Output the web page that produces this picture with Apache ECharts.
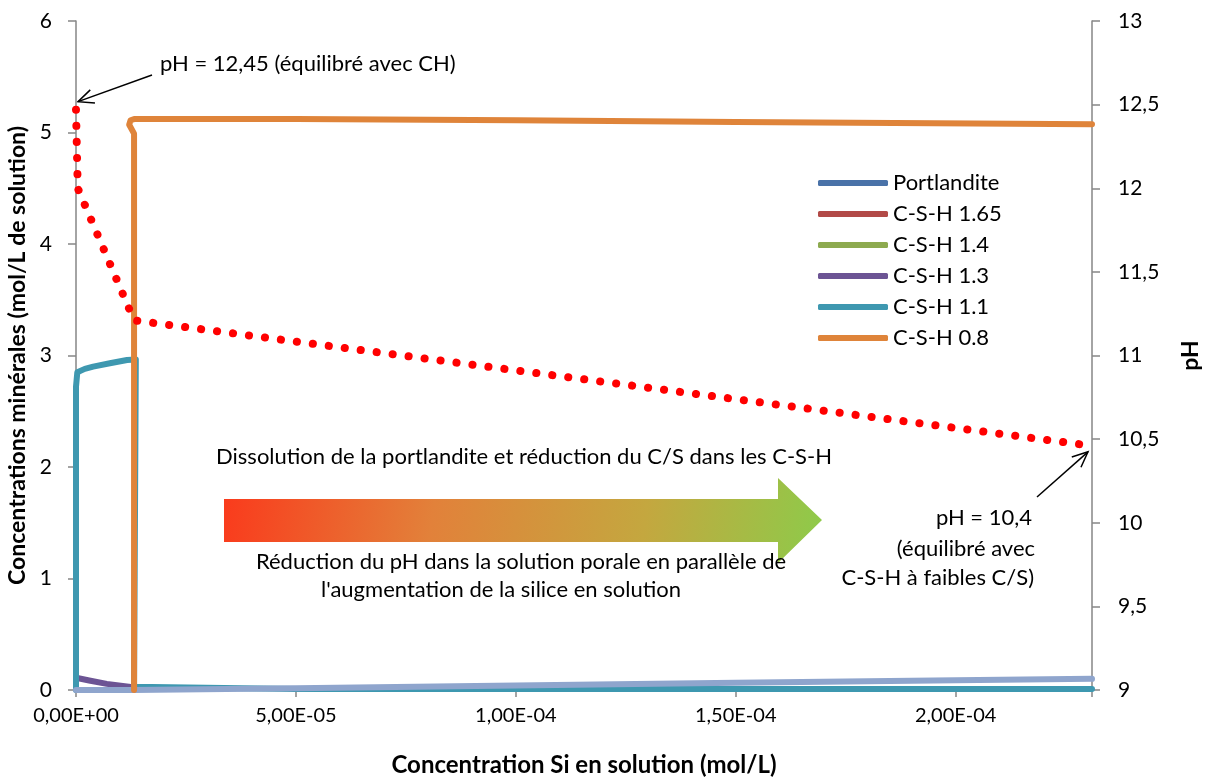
<!DOCTYPE html>
<html>
<head>
<meta charset="utf-8">
<script src="https://cdn.jsdelivr.net/npm/echarts@6/dist/echarts.min.js"></script>
<style>
  html, body { margin: 0; background: #fff; }
  #chart { width: 1209px; height: 778px; }
</style>
</head>
<body>
<div id="chart"></div>
<script>
// noms de la légende
var legendNames = ['Portlandite', 'C-S-H 1.65', 'C-S-H 1.4', 'C-S-H 1.3', 'C-S-H 1.1', 'C-S-H 0.8'];

// concentrations minérales [Si (mol/L), mol/L de solution]
var portlandite = [[0, 0], [0, 0]];
var csh165 = [[0, 0], [0, 0]];
var csh14 = [[0, 0], [0, 0]];
var csh13 = [[0, 0.11], [3e-6, 0.085], [7e-6, 0.055], [1.2e-5, 0.03], [1.3e-5, 0.02]];
var csh11 = [[0, 0], [0, 2.72], [3e-7, 2.85], [2e-6, 2.88], [3.9e-6, 2.9], [7.7e-6, 2.93], [1.16e-5, 2.96], [1.36e-5, 2.965],
             [1.32e-5, 0.03], [5e-5, 0.01], [1.5e-4, 0.01], [2.31e-4, 0.01]];
var csh08 = [[1.32e-5, 0], [1.32e-5, 4.99], [1.21e-5, 5.07], [1.24e-5, 5.11], [1.32e-5, 5.12],
             [5e-5, 5.12], [1e-4, 5.11], [1.5e-4, 5.095], [2.31e-4, 5.075]];
var silice = [[0, 0], [1.3e-5, 0.0], [5e-5, 0.015], [1e-4, 0.04], [1.5e-4, 0.065], [2e-4, 0.088], [2.31e-4, 0.1]];

// pH (axe de droite)
var ph = [[0, 12.47], [4e-7, 12.0], [1.32e-5, 11.21], [2.31e-4, 10.46]];

var colors = ['#4A72A8', '#B24A47', '#8DAA4F', '#6C5494', '#3E98B0', '#DF843A'];
var FONT = 'Lato, "Open Sans", sans-serif';

var chart = echarts.init(document.getElementById('chart'));

function sci(v) {
    if (v > 2.2e-4) return '';
    var s = v.toExponential(2).split('e');
    var e = parseInt(s[1], 10);
    var a = Math.abs(e);
    return s[0].replace('.', ',') + 'E' + (e < 0 ? '-' : '+') + (a < 10 ? '0' : '') + a;
}

function mineral(name, data, color) {
    return {
        name: name, type: 'line', data: data, symbol: 'none', clip: false,
        yAxisIndex: 0, animation: false,
        lineStyle: { color: color, width: 6, cap: 'round', join: 'round' },
        itemStyle: { color: color }
    };
}

var series = [
    mineral(legendNames[0], portlandite, colors[0]),
    mineral(legendNames[1], csh165, colors[1]),
    mineral(legendNames[2], csh14, colors[2]),
    mineral(legendNames[3], csh13, colors[3]),
    mineral(legendNames[4], csh11, colors[4]),
    mineral('silice', silice, '#8FA5CD'),
    mineral(legendNames[5], csh08, colors[5]),
    {
        name: 'pH', type: 'line', data: ph, symbol: 'none', yAxisIndex: 1, clip: false,
        lineStyle: { color: '#FF0000', width: 8, type: [0.1, 16], cap: 'round' },
        z: 5
    }
];

var axisLine = { show: true, lineStyle: { color: '#868686', width: 1.5 } };
var nameStyle = { fontFamily: FONT, fontSize: 23, fontWeight: 'bold', color: '#000' };

chart.setOption({
    animation: false,
    textStyle: { fontFamily: FONT },
    grid: { left: 76, right: 117, top: 21, bottom: 88, outerBoundsMode: 'none', containLabel: false },
    legend: {
        data: legendNames,
        orient: 'vertical',
        left: 813, top: 167,
        icon: 'roundRect',
        itemWidth: 70, itemHeight: 6, itemGap: 9,
        textStyle: { fontFamily: FONT, fontSize: 22, color: '#000', lineHeight: 22 }
    },
    xAxis: {
        type: 'value', min: 0, max: 2.31e-4, interval: 5e-5,
        name: 'Concentration Si en solution (mol/L)',
        nameLocation: 'middle', nameGap: 63,
        nameTextStyle: { fontFamily: FONT, fontSize: 24, fontWeight: 'bold', color: '#000' },
        axisLine: axisLine,
        axisTick: { show: true, length: 7, lineStyle: { color: '#868686', width: 1.5 } },
        splitLine: { show: false },
        axisLabel: { formatter: sci, fontSize: 20, color: '#000', margin: 16 }
    },
    yAxis: [{
        type: 'value', min: 0, max: 6, interval: 1, position: 'left',
        name: 'Concentrations minérales (mol/L de solution)',
        nameLocation: 'middle', nameGap: 46, nameRotate: 90,
        nameTextStyle: nameStyle,
        axisLine: axisLine,
        axisTick: { show: true, length: 8, lineStyle: { color: '#868686', width: 1.5 } },
        splitLine: { show: false },
        axisLabel: { fontSize: 21, color: '#000', margin: 24 }
    }, {
        type: 'value', min: 9, max: 13, interval: 0.5, position: 'right',
        name: 'pH',
        nameLocation: 'middle', nameGap: 87, nameRotate: 90,
        nameTextStyle: nameStyle,
        axisLine: axisLine,
        axisTick: { show: true, length: 8, lineStyle: { color: '#868686', width: 1.5 } },
        splitLine: { show: false },
        axisLabel: {
            fontSize: 21, color: '#000', margin: 26,
            formatter: function (v) { return String(v).replace('.', ','); }
        }
    }],
    series: series
});

// flèches d'annotation rattachées aux points de pH
function arrow(from, to) {
    var ang = Math.atan2(to[1] - from[1], to[0] - from[0]);
    var L = 17, a = 0.42;
    var p1 = [to[0] - L * Math.cos(ang - a), to[1] - L * Math.sin(ang - a)];
    var p2 = [to[0] - L * Math.cos(ang + a), to[1] - L * Math.sin(ang + a)];
    return [
        { type: 'line', shape: { x1: from[0], y1: from[1], x2: to[0], y2: to[1] }, style: { stroke: '#000', lineWidth: 1.5 } },
        { type: 'polyline', shape: { points: [p1, to, p2] }, style: { stroke: '#000', lineWidth: 1.5, fill: null } }
    ];
}

var phIdx = series.length - 1;
var t1 = chart.convertToPixel({ seriesIndex: phIdx }, ph[0]);
var t2 = chart.convertToPixel({ seriesIndex: phIdx }, ph[ph.length - 1]);
var tip1 = [t1[0] + 2, t1[1] - 8];
var tip2 = [t2[0] - 4, t2[1] + 6];

function txt(x, y, s, align) {
    return { type: 'text', x: x, y: y, style: { text: s, fill: '#000', font: '22px ' + FONT, textAlign: align || 'left', textVerticalAlign: 'middle' } };
}

var graphics = [
    {
        type: 'polygon',
        shape: { points: [[224, 499], [778, 499], [778, 478], [822, 520], [778, 563], [778, 542], [224, 542]] },
        style: {
            fill: new echarts.graphic.LinearGradient(0, 0, 1, 1, [
                { offset: 0, color: '#FA3A1C' },
                { offset: 0.35, color: '#E2813A' },
                { offset: 0.7, color: '#C4A73F' },
                { offset: 1, color: '#8DCB4A' }
            ])
        }
    },
    txt(160, 64, 'pH = 12,45 (équilibré avec CH)'),
    txt(524, 457, 'Dissolution de la portlandite et réduction du C/S dans les C-S-H', 'center'),
    txt(521, 562, 'Réduction du pH dans la solution porale en parallèle de', 'center'),
    txt(501, 590, "l'augmentation de la silice en solution", 'center'),
    txt(1032, 518, 'pH = 10,4', 'right'),
    txt(1035, 549, '(équilibré avec', 'right'),
    txt(1034, 578, 'C-S-H à faibles C/S)', 'right')
].concat(arrow([152, 75], tip1)).concat(arrow([1037, 497], tip2));

chart.setOption({ graphic: graphics });
</script>
</body>
</html>
